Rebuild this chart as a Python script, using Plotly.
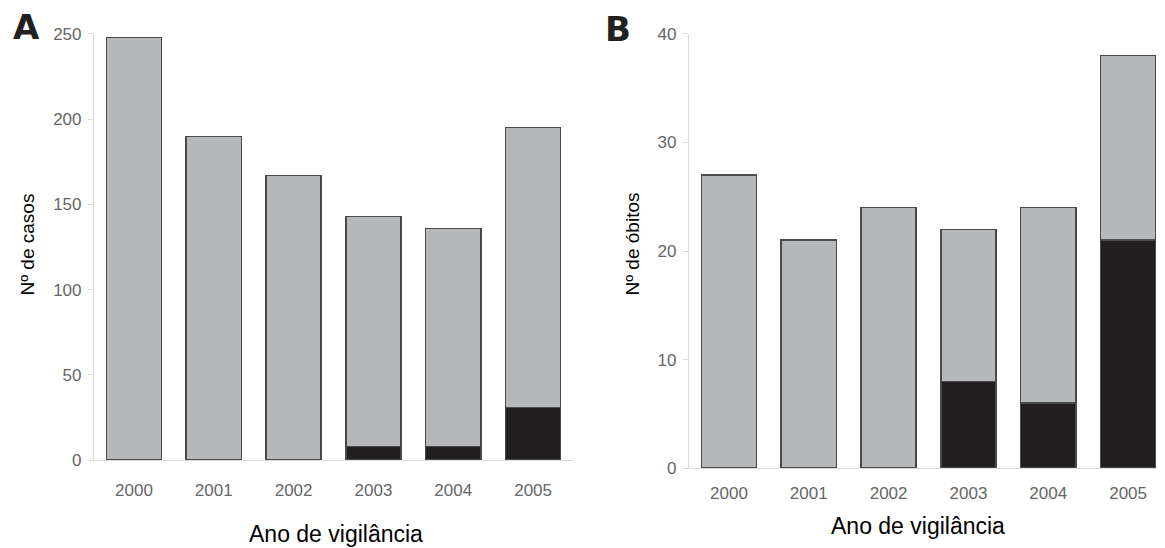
import plotly.graph_objects as go

anos = ["2000", "2001", "2002", "2003", "2004", "2005"]
casos_total = [248, 190, 167, 143, 136, 195]
casos_preto = [0, 0, 0, 8, 8, 31]
obitos_total = [27, 21, 24, 22, 24, 38]
obitos_preto = [0, 0, 0, 8, 6, 21]

GRAY = "#b7b8bb"
BLACK = "#231f20"
EDGE = "#4a4a4a"
W, H = 1165, 548

# empirical mapping from target pixel to paper fraction in the renderer
def fx(px):
    return (px - 7) / 1165

def fy(py):
    return (547 - py) / 530

fig = go.Figure()

def add_panel(total, preto, xa, ya):
    cinza = [t - p for t, p in zip(total, preto)]
    fig.add_trace(go.Bar(x=anos, y=preto, marker=dict(color=BLACK, line=dict(color=EDGE, width=1.5)),
                         width=0.69, xaxis=xa, yaxis=ya, showlegend=False))
    fig.add_trace(go.Bar(x=anos, y=cinza, marker=dict(color=GRAY, line=dict(color=EDGE, width=1.5)),
                         width=0.69, xaxis=xa, yaxis=ya, showlegend=False))

add_panel(casos_total, casos_preto, "x", "y")
add_panel(obitos_total, obitos_preto, "x2", "y2")

tickfont = dict(family="Liberation Sans, Arial, sans-serif", size=17, color="#666666")
axcommon = dict(showgrid=False, zeroline=False, showline=True, linecolor="#dcdcdc", linewidth=1.2,
                tickfont=tickfont)

fig.update_layout(
    width=W, height=H, margin=dict(l=0, r=0, t=0, b=0),
    paper_bgcolor="white", plot_bgcolor="white", barmode="stack",
    xaxis=dict(domain=[fx(93), fx(572)], anchor="y", range=[-0.5, 5.5], ticks="",
               ticklabelstandoff=14, **axcommon),
    yaxis=dict(domain=[fy(461), fy(34)], anchor="x", range=[0, 250], tickvals=[0, 50, 100, 150, 200, 250],
               ticks="outside", ticklen=5, tickcolor="#dcdcdc", ticklabelstandoff=3, **axcommon),
    xaxis2=dict(domain=[fx(688), fx(1167)], anchor="y2", range=[-0.5, 5.5], ticks="",
                ticklabelstandoff=9, **axcommon),
    yaxis2=dict(domain=[fy(469), fy(34)], anchor="x2", range=[0, 40], tickvals=[0, 10, 20, 30, 40],
                ticks="outside", ticklen=5, tickcolor="#dcdcdc", ticklabelstandoff=3, **axcommon),
)

xlabfont = dict(family="Liberation Sans, Arial, sans-serif", size=23, color="black")
ylabfont = dict(family="Liberation Sans, Arial, sans-serif", size=19, color="black")
ann = [
    dict(text="Ano de vigilância", x=fx(335), y=fy(535), xanchor="center", yanchor="middle", font=xlabfont),
    dict(text="Ano de vigilância", x=fx(917), y=fy(527), xanchor="center", yanchor="middle", font=xlabfont),
    dict(text="Nº de casos", x=fx(27), y=fy(245), xanchor="center", yanchor="middle", textangle=-90, font=ylabfont),
    dict(text="Nº de óbitos", x=fx(632), y=fy(245), xanchor="center", yanchor="middle", textangle=-90, font=ylabfont),
    dict(text="<b>A</b>", x=fx(25), y=fy(27), xanchor="center", yanchor="middle",
         font=dict(family="DejaVu Sans, sans-serif", size=34, color=BLACK)),
    dict(text="<b>B</b>", x=fx(617), y=fy(29), xanchor="center", yanchor="middle",
         font=dict(family="DejaVu Sans, sans-serif", size=34, color=BLACK)),
]
for a in ann:
    a.update(xref="paper", yref="paper", showarrow=False)
fig.update_layout(annotations=ann)

fig.write_html("out.html")
